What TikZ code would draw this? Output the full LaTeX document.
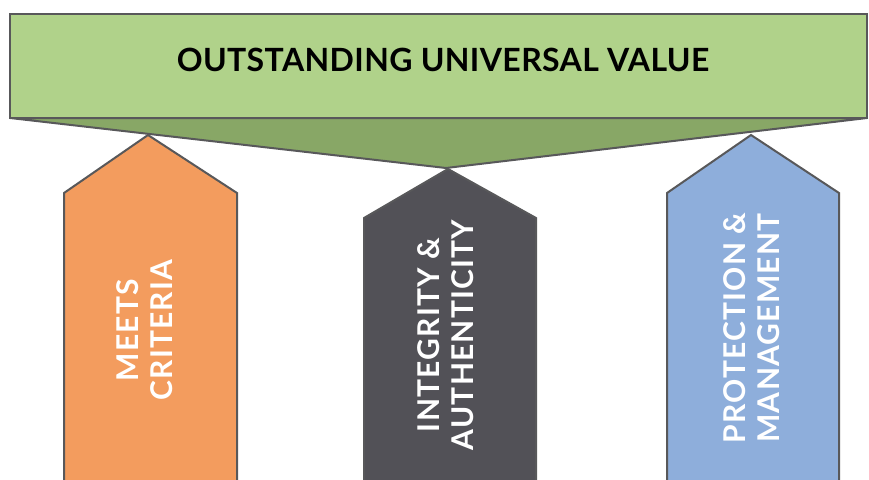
\documentclass[tikz,border=0pt]{standalone}
\usepackage{fontspec}
\setmainfont{Lato}
\newfontfamily\spacedfont[LetterSpace=4]{Lato}
\newfontfamily\titlefont[LetterSpace=1.2]{Lato}
\definecolor{lgreen}{HTML}{B0D28A}
\definecolor{dgreen}{HTML}{88A766}
\definecolor{orng}{HTML}{F39C5E}
\definecolor{dgray}{HTML}{525157}
\definecolor{lblue}{HTML}{8EAEDB}
\definecolor{edge}{HTML}{58585A}
\begin{document}
\begin{tikzpicture}[x=1pt,y=-1pt,
  shp/.style={draw=edge,line width=2pt,line join=miter},
  vlabel/.style={rotate=90,text=white,font=\spacedfont\bfseries\fontsize{30}{34}\selectfont,align=center,inner sep=0pt}]
\useasboundingbox (0,0) rectangle (869,479);
\clip (0,0) rectangle (869,479);
% arrows
\path[shp,fill=orng] (64,490) -- (64,193) -- (148,135) -- (237,193) -- (237,490);
\path[shp,fill=dgray] (364,490) -- (364,218) -- (448,169) -- (536,218) -- (536,490);
\path[shp,fill=lblue] (667,490) -- (667,193) -- (751,135) -- (839,193) -- (839,490);
% top
\path[shp,fill=dgreen] (10,118) -- (867,118) -- (446,168) -- cycle;
\path[shp,fill=lgreen] (10,14) rectangle (867,118);
\node[font=\titlefont\bfseries\fontsize{32}{36}\selectfont,inner sep=0pt] (title) at (443,60) {OUTSTANDING UNIVERSAL VALUE};
\node[vlabel] (meets) at (145,330) {MEETS\\CRITERIA};
\node[vlabel] (integ) at (446,335) {INTEGRITY \&\\AUTHENTICITY};
\node[vlabel] (prot) at (752,328) {PROTECTION \&\\MANAGEMENT};
\end{tikzpicture}
\end{document}
